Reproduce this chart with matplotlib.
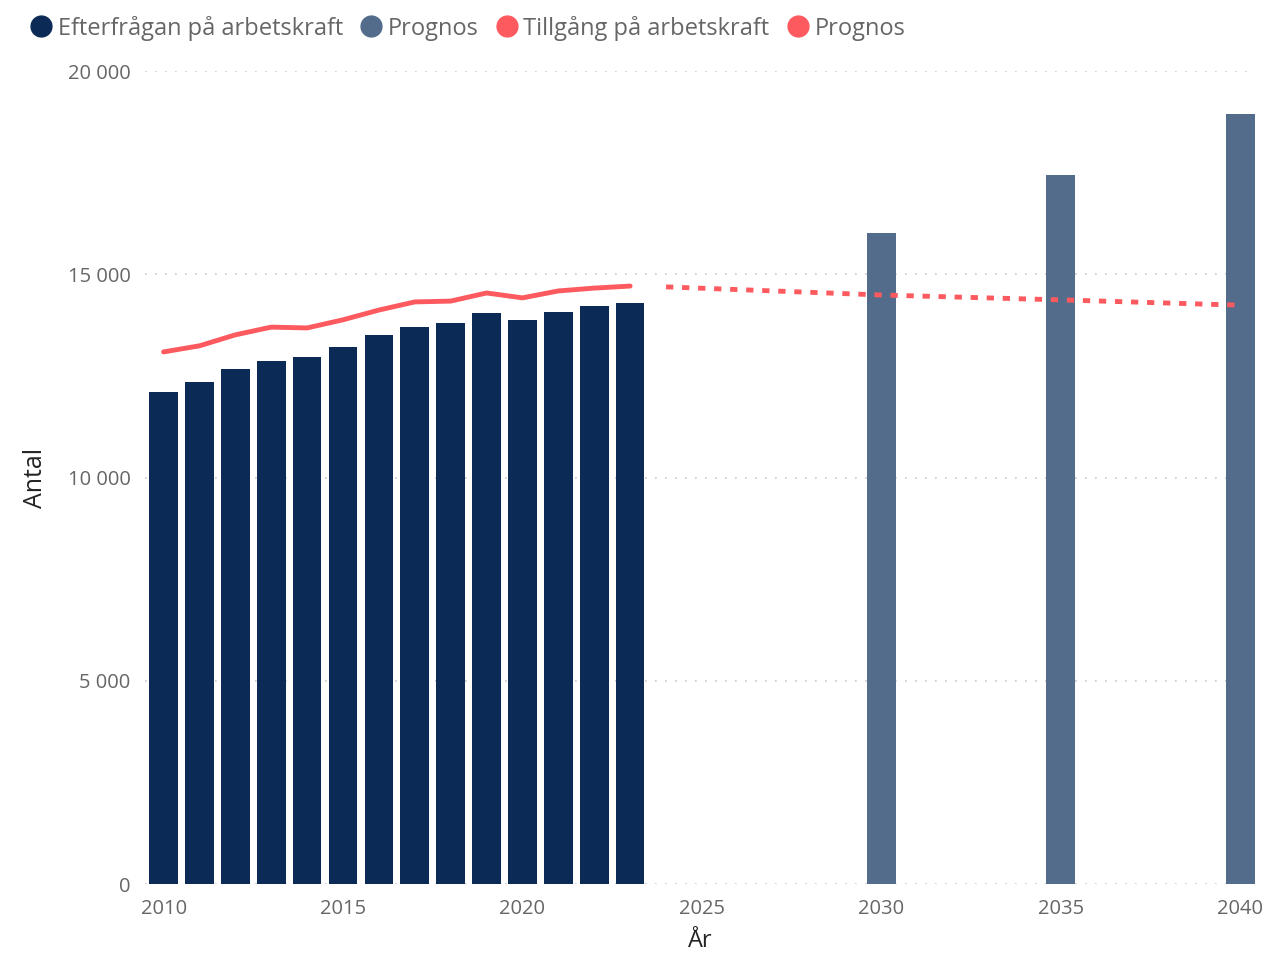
import matplotlib.pyplot as plt
from matplotlib.lines import Line2D
from matplotlib.ticker import FuncFormatter

ar_hist = list(range(2010, 2024))
efterfragan = [12100, 12350, 12670, 12870, 12960, 13210, 13510, 13700, 13800, 14050,
               13870, 14070, 14220, 14290]
tillgang = [13090, 13240, 13510, 13700, 13680, 13880, 14120, 14320, 14340, 14540,
            14420, 14590, 14660, 14710]

ar_prognos = [2030, 2035, 2040]
efterfragan_prognos = [16010, 17440, 18940]

ar_tillg_prognos = [2024, 2030, 2035, 2040]
tillgang_prognos = [14690, 14490, 14370, 14240]

MORK = '#0B2A56'
PROGNOS = '#536C8B'
ROD = '#FD5A60'
GRA = '#666666'

plt.rcParams['font.family'] = ['Open Sans', 'DejaVu Sans']

fig = plt.figure(figsize=(12.68, 9.56), dpi=100)
ax = fig.add_axes([0.114, 0.0753, 0.876, 0.8504])

ax.bar(ar_hist, efterfragan, width=0.8, color=MORK, zorder=2)
ax.bar(ar_prognos, efterfragan_prognos, width=0.8, color=PROGNOS, zorder=2)
ax.plot(ar_hist, tillgang, color=ROD, lw=3.5, solid_capstyle='round', zorder=3)
ax.plot(ar_tillg_prognos, tillgang_prognos, color=ROD, lw=3.5, linestyle=(0, (1.5, 1.8)), zorder=3)

ax.set_xlim(2009.47, 2040.42)
ax.set_ylim(0, 20000)
ax.set_yticks([0, 5000, 10000, 15000, 20000])
ax.set_xticks([2010, 2015, 2020, 2025, 2030, 2035, 2040])
ax.yaxis.set_major_formatter(FuncFormatter(lambda v, p: f'{int(v):,}'.replace(',', ' ')))
ax.grid(axis='y', color='#c8c8c8', linestyle=(0, (1, 5)), lw=1.2, zorder=0)
for s in ax.spines.values():
    s.set_visible(False)
ax.tick_params(length=0, labelsize=14.5, labelcolor=GRA)
ax.tick_params(axis='y', pad=10)
ax.tick_params(axis='x', pad=11)

ax.set_ylabel('Antal', fontsize=18, color='#252423', labelpad=14)
ax.set_xlabel('År', fontsize=17, color='#252423', labelpad=7)

handles = [Line2D([], [], marker='o', ls='', color=c, markersize=15)
           for c in [MORK, PROGNOS, ROD, ROD]]
labels = ['Efterfrågan på arbetskraft', 'Prognos', 'Tillgång på arbetskraft', 'Prognos']
fig.legend(handles, labels, loc='upper left', bbox_to_anchor=(-0.003, 1.006), ncol=4,
           frameon=False, fontsize=17, handletextpad=-0.3, columnspacing=0.2,
           labelcolor=GRA)

fig.savefig('out.png', dpi=100)
